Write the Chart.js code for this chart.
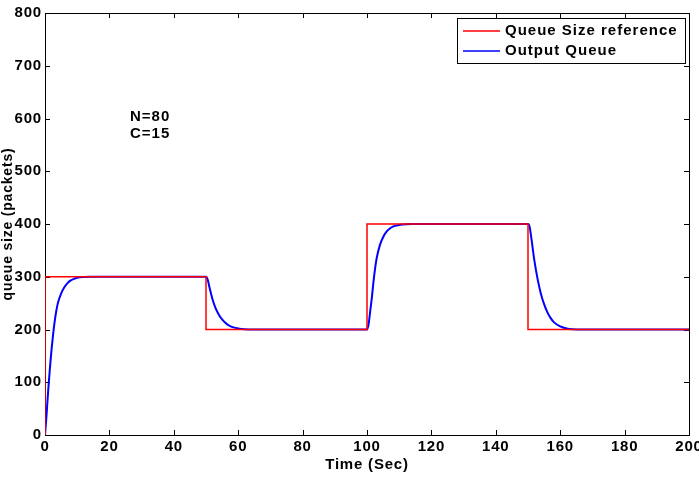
<!DOCTYPE html>
<html>
<head>
<meta charset="utf-8">
<script src="https://cdn.jsdelivr.net/npm/chart.js@4"></script>
<style>
  html, body { margin: 0; padding: 0; background: #fff; }
  #wrap { width: 699px; height: 484px; }
</style>
</head>
<body>
<div id="wrap"><canvas id="queueChart" width="699" height="484"></canvas></div>
<script>
// reference queue size (step changes)
const refTime = [0, 0, 50, 50, 100, 100, 150, 150, 200];
const refQueue = [0, 300, 300, 200, 200, 400, 400, 200, 200];

// output queue
const outTime = [0, 0.5, 1, 1.5, 2, 2.5, 3, 3.5, 4, 5, 6, 7, 8, 9, 10, 12, 14,
  50, 50.5, 51, 52, 53, 54, 55, 56, 57, 58, 60, 62, 64,
  100, 100.5, 101, 101.5, 102, 102.5, 103, 104, 105, 106, 107, 108, 110, 112, 114,
  150, 150.5, 151, 152, 153, 154, 155, 156, 157, 158, 160, 162, 164, 166, 200];
const outQueue = [0, 40, 85, 125, 160, 190, 215, 235, 250, 268, 280, 288, 293, 296, 298, 299.5, 300,
  300, 295, 282, 258, 240, 228, 219, 213, 208, 205, 202, 200.5, 200,
  200, 210, 235, 260, 290, 315, 335, 360, 375, 385, 391, 395, 398, 399.5, 400,
  400, 395, 375, 330, 295, 268, 248, 233, 222, 214, 206, 202, 200.5, 200, 200];

const xTicks = [0, 20, 40, 60, 80, 100, 120, 140, 160, 180, 200];
const yTicks = [0, 100, 200, 300, 400, 500, 600, 700, 800];
const notes = ["N=80", "C=15"];

const FONT = "'Liberation Sans', Arial, sans-serif";

function toPoints(xs, ys) {
  return xs.map((x, i) => ({ x: x, y: ys[i] }));
}

// box around the plot with inward ticks on all four sides (matlab style)
const boxPlugin = {
  id: "box",
  beforeDraw(chart) {
    // the reference text is a bit stretched
    chart.ctx.letterSpacing = "0.8px";
  },
  beforeDatasetsDraw(chart) {
    const ctx = chart.ctx;
    const a = chart.chartArea;
    const xs = chart.scales.x, ys = chart.scales.y;
    const len = 5;
    ctx.save();
    ctx.strokeStyle = "#000";
    ctx.lineWidth = 1;
    ctx.strokeRect(a.left + 0.5, a.top + 0.5, a.right - a.left, a.bottom - a.top);
    ctx.beginPath();
    xTicks.forEach((v) => {
      const px = Math.round(xs.getPixelForValue(v)) + 0.5;
      ctx.moveTo(px, a.bottom); ctx.lineTo(px, a.bottom - len);
      ctx.moveTo(px, a.top); ctx.lineTo(px, a.top + len);
    });
    yTicks.forEach((v) => {
      const py = Math.round(ys.getPixelForValue(v)) + 0.5;
      ctx.moveTo(a.left, py); ctx.lineTo(a.left + len, py);
      ctx.moveTo(a.right, py); ctx.lineTo(a.right - len, py);
    });
    ctx.stroke();
    ctx.restore();
  },
  afterDatasetsDraw(chart) {
    const ctx = chart.ctx;
    ctx.save();
    ctx.letterSpacing = "1px";
    // annotation
    ctx.fillStyle = "#000";
    ctx.font = "bold 15px " + FONT;
    ctx.textBaseline = "middle";
    ctx.textAlign = "left";
    notes.forEach((t, i) => ctx.fillText(t, 130, 117 + i * 17));

    // legend box
    const lx = 457, ly = 18, lw = 228, lh = 45;
    ctx.fillStyle = "#fff";
    ctx.fillRect(lx, ly, lw, lh);
    ctx.strokeStyle = "#000";
    ctx.lineWidth = 1;
    ctx.strokeRect(lx + 0.5, ly + 0.5, lw, lh);
    chart.data.datasets.forEach((ds, i) => {
      const y = ly + 13 + i * 20;
      ctx.strokeStyle = ds.borderColor;
      ctx.lineWidth = 1.5;
      ctx.beginPath();
      ctx.moveTo(lx + 6, y); ctx.lineTo(lx + 43, y);
      ctx.stroke();
      ctx.fillStyle = "#000";
      ctx.fillText(ds.label, lx + 48, y);
    });
    ctx.restore();
  },
};

new Chart(document.getElementById("queueChart"), {
  type: "scatter",
  data: {
    datasets: [
      {
        label: "Queue Size reference",
        data: toPoints(refTime, refQueue),
        showLine: true,
        borderColor: "#ff0000",
        borderWidth: 1.5,
        pointRadius: 0,
        tension: 0,
      },
      {
        label: "Output Queue",
        data: toPoints(outTime, outQueue),
        showLine: true,
        borderColor: "#0000ff",
        borderWidth: 2,
        pointRadius: 0,
        cubicInterpolationMode: "monotone",
      },
    ],
  },
  options: {
    responsive: false,
    animation: false,
    layout: { padding: { top: 13, right: 10, left: 0, bottom: 0 } },
    plugins: { legend: { display: false }, tooltip: { enabled: false } },
    scales: {
      x: {
        type: "linear",
        min: 0,
        max: 200,
        grid: { display: false, drawTicks: false },
        border: { display: false },
        afterBuildTicks: (s) => { s.ticks = xTicks.map((v) => ({ value: v })); },
        afterFit: (s) => { s.height = 49; s.paddingLeft = 0; s.paddingRight = 0; },
        ticks: { color: "#000", padding: 3, maxRotation: 0, font: { family: FONT, size: 15, weight: "bold" } },
        title: {
          display: true,
          text: "Time (Sec)",
          color: "#000",
          font: { family: FONT, size: 15, weight: "bold" },
          padding: { top: 0, bottom: 10 },
        },
      },
      y: {
        min: 0,
        max: 800,
        grid: { display: false, drawTicks: false },
        border: { display: false },
        afterBuildTicks: (s) => { s.ticks = yTicks.map((v) => ({ value: v })); },
        afterFit: (s) => { s.width = 45; s.paddingTop = 0; s.paddingBottom = 0; },
        ticks: { color: "#000", padding: 3, font: { family: FONT, size: 15, weight: "bold" } },
        title: {
          display: true,
          text: "queue size (packets)",
          color: "#000",
          font: { family: FONT, size: 14, weight: "bold" },
          padding: { top: 0, bottom: 0 },
        },
      },
    },
  },
  plugins: [boxPlugin],
});
</script>
</body>
</html>
